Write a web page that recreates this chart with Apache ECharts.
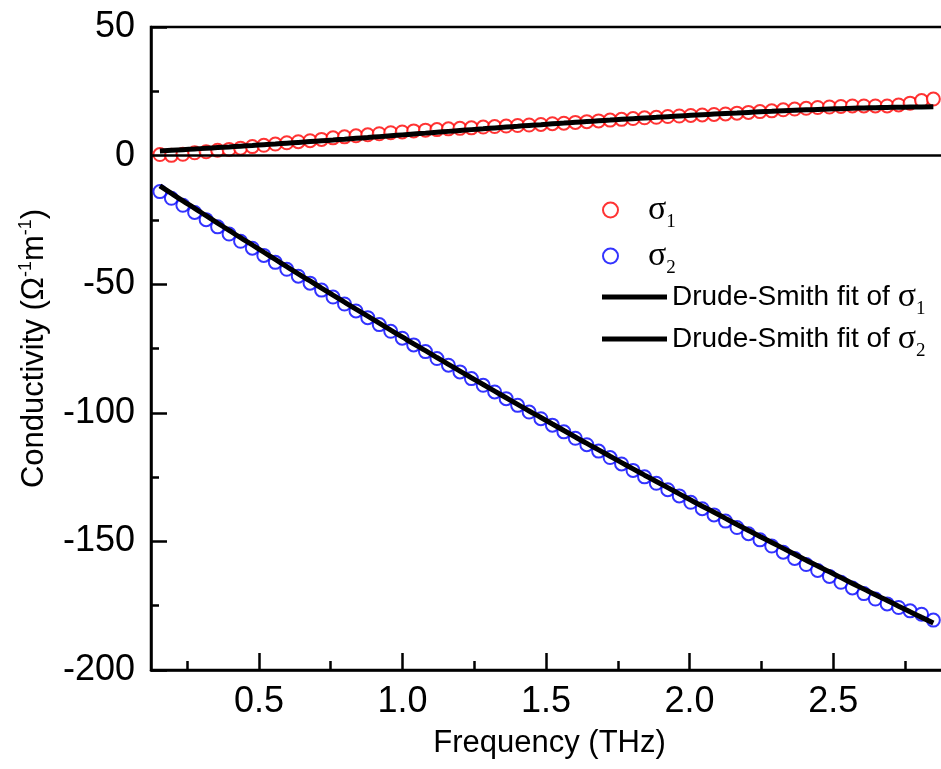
<!DOCTYPE html>
<html>
<head>
<meta charset="utf-8">
<script src="https://cdn.jsdelivr.net/npm/echarts@6/dist/echarts.min.js"></script>
<style>html,body{margin:0;padding:0;background:#fff}#c{width:941px;height:769px}</style>
</head>
<body>
<div id="c"></div>
<script>
var freq = [0.155,0.195,0.235,0.276,0.316,0.356,0.396,0.436,0.477,0.517,0.557,0.597,0.637,0.678,0.718,0.758,0.798,0.838,0.879,0.919,0.959,0.999,1.039,1.080,1.120,1.160,1.200,1.240,1.281,1.321,1.361,1.401,1.441,1.482,1.522,1.562,1.602,1.642,1.683,1.723,1.763,1.803,1.843,1.884,1.924,1.964,2.004,2.044,2.085,2.125,2.165,2.205,2.245,2.286,2.326,2.366,2.406,2.446,2.487,2.527,2.567,2.607,2.647,2.688,2.728,2.768,2.808,2.849];
var sigma1 = [0.4,0.1,0.5,1.1,1.5,2.1,2.4,2.9,3.5,4.0,4.5,5.0,5.4,5.8,6.3,6.9,7.3,7.7,8.1,8.5,8.9,9.2,9.6,9.9,10.1,10.4,10.6,10.8,11.1,11.3,11.5,11.7,11.9,12.1,12.4,12.6,12.9,13.2,13.5,13.8,14.1,14.4,14.7,14.9,15.2,15.4,15.6,15.8,16.0,16.2,16.5,16.8,17.1,17.4,17.8,18.1,18.4,18.7,18.9,19.1,19.3,19.3,19.3,19.3,19.7,20.4,21.4,22.0];
var sigma2 = [-14.0,-16.6,-19.3,-22.1,-24.9,-27.7,-30.5,-33.3,-36.0,-38.8,-41.5,-44.2,-46.9,-49.6,-52.3,-55.0,-57.7,-60.4,-63.0,-65.7,-68.3,-71.0,-73.6,-76.2,-78.9,-81.5,-84.1,-86.7,-89.3,-91.9,-94.5,-97.1,-99.7,-102.3,-104.8,-107.4,-109.9,-112.4,-114.9,-117.4,-119.9,-122.4,-124.9,-127.4,-129.9,-132.3,-134.8,-137.3,-139.7,-142.1,-144.6,-147.0,-149.4,-151.8,-154.2,-156.6,-159.0,-161.3,-163.6,-165.9,-168.1,-170.3,-172.4,-174.3,-175.7,-177.0,-178.3,-180.6];
var fit1 = [1.80,2.06,2.32,2.58,2.85,3.12,3.39,3.67,3.95,4.24,4.53,4.83,5.13,5.44,5.75,6.06,6.38,6.71,7.04,7.38,7.72,8.06,8.40,8.74,9.08,9.42,9.76,10.10,10.43,10.76,11.09,11.41,11.73,12.04,12.35,12.65,12.95,13.24,13.53,13.81,14.09,14.36,14.63,14.89,15.15,15.40,15.65,15.89,16.13,16.36,16.58,16.80,17.01,17.21,17.41,17.60,17.78,17.95,18.11,18.26,18.40,18.52,18.63,18.73,18.81,18.88,18.94,19.00];
var fit2 = [-11.80,-14.71,-17.61,-20.49,-23.37,-26.24,-29.09,-31.93,-34.76,-37.58,-40.39,-43.18,-45.97,-48.74,-51.50,-54.26,-57.00,-59.72,-62.44,-65.15,-67.84,-70.52,-73.20,-75.86,-78.51,-81.14,-83.77,-86.38,-88.99,-91.58,-94.16,-96.73,-99.29,-101.84,-104.37,-106.90,-109.41,-111.91,-114.40,-116.88,-119.35,-121.81,-124.25,-126.69,-129.11,-131.52,-133.92,-136.31,-138.68,-141.05,-143.41,-145.75,-148.08,-150.40,-152.71,-155.01,-157.30,-159.57,-161.83,-164.09,-166.33,-168.56,-170.78,-172.98,-175.18,-177.37,-179.54,-181.70];
var xMajorTicks = [0.5,1.0,1.5,2.0,2.5];
var xMinorTicks = [0.25,0.75,1.25,1.75,2.25,2.75];
var xRange = [0.124, 2.9];
var yRange = [-200, 50];
var yStep = 50;
var legendNames = ['s1','s2','f1','f2'];
var legendLabels = {
  s1: '{s|σ}{sub|1}',
  s2: '{s|σ}{sub|2}',
  f1: 'Drude-Smith fit of {s|σ}{sub|1}',
  f2: 'Drude-Smith fit of {s|σ}{sub|2}'
};

function pairs(xs, ys){ return xs.map(function(x,i){ return [x, ys[i]]; }); }

var FONT = 'Liberation Sans, Arial, sans-serif';
var SERIF = 'Liberation Serif, DejaVu Serif, serif';
var legendText = {
  fontFamily: FONT, fontSize: 28, color: '#000',
  rich: {
    s: { fontFamily: SERIF, fontSize: 34, color: '#000' },
    sub: { fontFamily: SERIF, fontSize: 19, color: '#000', padding: [24,0,0,0] }
  }
};
function mkLegend(name, top, isLine){
  return {
    data: [name], orient: 'vertical', left: 602, top: top, padding: 0,
    itemWidth: 65, itemHeight: isLine ? 5 : 15, icon: isLine ? 'rect' : undefined,
    formatter: function(n){ return legendLabels[n]; },
    textStyle: legendText
  };
}

var chart = echarts.init(document.getElementById('c'));
chart.setOption({
  animation: false,
  backgroundColor: '#fff',
  grid: { left: 151, top: 27, width: 797, height: 643, outerBoundsMode: 'none', show: true, borderColor: '#000', borderWidth: 2.5 },
  legend: [
    mkLegend(legendNames[0], 193, false),
    mkLegend(legendNames[1], 239, false),
    mkLegend(legendNames[2], 280, true),
    mkLegend(legendNames[3], 322, true)
  ],
  xAxis: [{
    type: 'value', min: xRange[0], max: xRange[1],
    axisLine: { show: true, onZero: false, lineStyle: { color: '#000', width: 2.5 } },
    axisTick: { show: true, inside: true, length: 17, customValues: xMajorTicks, lineStyle: { color: '#000', width: 2.5 } },
    axisLabel: { show: true, customValues: xMajorTicks, margin: 14, fontFamily: FONT, fontSize: 36, color: '#000', formatter: function(v){ return v.toFixed(1); } },
    splitLine: { show: false },
    name: 'Frequency (THz)', nameLocation: 'middle', nameGap: 58,
    nameTextStyle: { fontFamily: FONT, fontSize: 31, color: '#000' }
  }, {
    type: 'value', min: xRange[0], max: xRange[1], position: 'bottom',
    axisLine: { show: false, onZero: false },
    axisTick: { show: true, inside: true, length: 9, customValues: xMinorTicks, lineStyle: { color: '#000', width: 2.5 } },
    axisLabel: { show: false },
    splitLine: { show: false }
  }],
  yAxis: {
    type: 'value', min: yRange[0], max: yRange[1], interval: yStep,
    axisLine: { show: true, onZero: false, lineStyle: { color: '#000', width: 2.5 } },
    axisTick: { show: true, inside: true, length: 16, lineStyle: { color: '#000', width: 2.5 } },
    minorTick: { show: true, splitNumber: 2, length: 8, lineStyle: { color: '#000', width: 2.5 } },
    axisLabel: { margin: 16, fontFamily: FONT, fontSize: 36, color: '#000' },
    splitLine: { show: false },
    name: '{t|Conductivity (Ω}{sup|-1}{t|m}{sup|-1}{t|)}', nameLocation: 'middle', nameGap: 100, nameRotate: 90,
    nameTextStyle: {
      fontFamily: FONT, fontSize: 31, color: '#000',
      rich: {
        t: { fontFamily: FONT, fontSize: 31, color: '#000' },
        sup: { fontFamily: FONT, fontSize: 18, color: '#000', padding: [0,0,16,0] }
      }
    }
  },
  series: [{
    name: 's1', type: 'scatter', data: pairs(freq, sigma1),
    symbol: 'emptyCircle', symbolSize: 13,
    itemStyle: { color: '#ff0000', borderColor: '#ff0000', borderWidth: 1.2 },
    markLine: {
      silent: true, symbol: 'none', label: { show: false },
      lineStyle: { color: '#000', width: 2.5, type: 'solid' },
      data: [{ yAxis: 0 }]
    },
    z: 2
  }, {
    name: 's2', type: 'scatter', data: pairs(freq, sigma2),
    symbol: 'emptyCircle', symbolSize: 13,
    itemStyle: { color: '#0000ff', borderColor: '#0000ff', borderWidth: 1.2 },
    z: 2
  }, {
    name: 'f1', type: 'line', data: pairs(freq, fit1), showSymbol: false, symbol: 'none', smooth: true,
    lineStyle: { color: '#000', width: 5 }, itemStyle: { color: '#000' }, z: 3
  }, {
    name: 'f2', type: 'line', data: pairs(freq, fit2), showSymbol: false, symbol: 'none', smooth: true,
    lineStyle: { color: '#000', width: 5 }, itemStyle: { color: '#000' }, z: 3
  }]
});
</script>
</body>
</html>
